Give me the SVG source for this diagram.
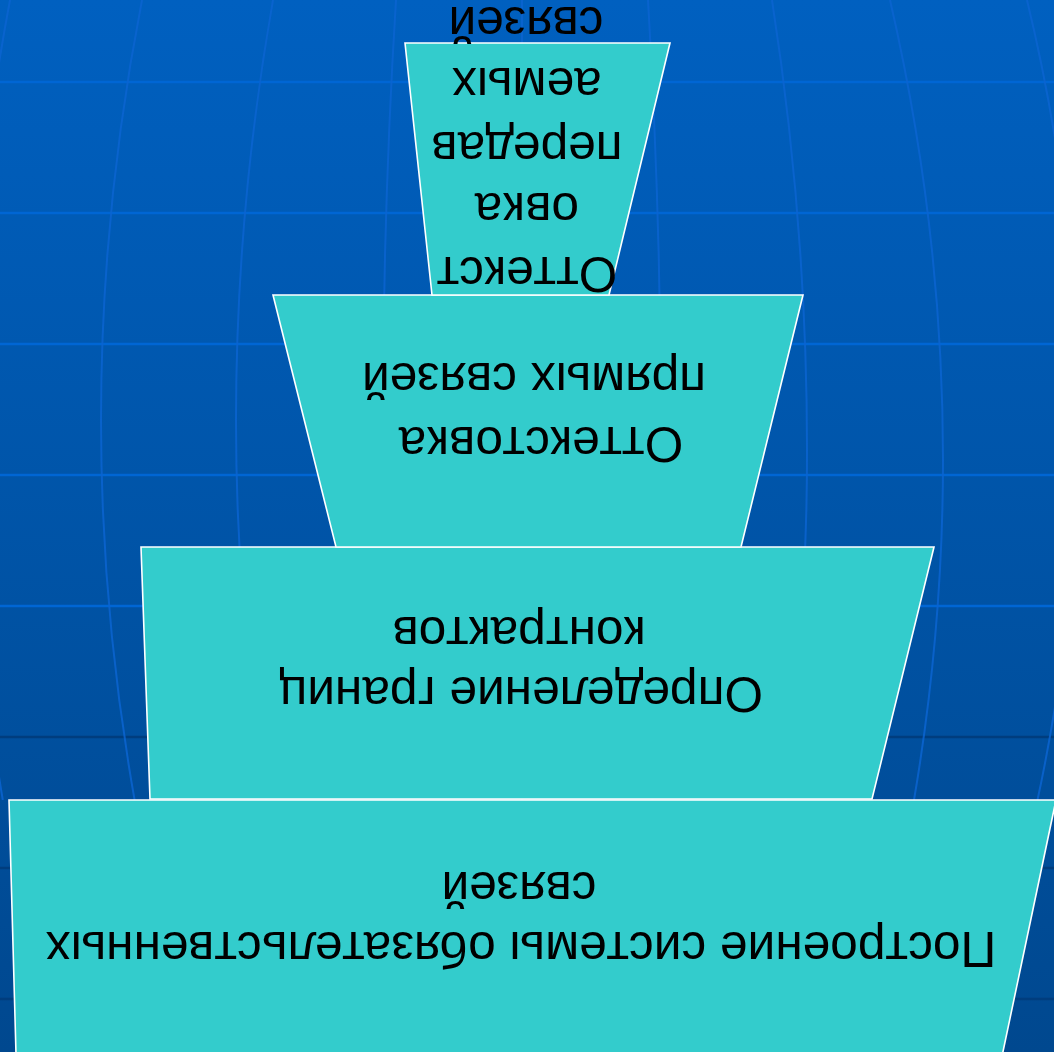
<svg xmlns="http://www.w3.org/2000/svg" width="1054" height="1052" viewBox="0 0 1054 1052">
  <defs>
    <linearGradient id="bg" x1="0" y1="0" x2="0" y2="1">
      <stop offset="0" stop-color="#0060c0"/>
      <stop offset="1" stop-color="#00488f"/>
    </linearGradient>
    <style>
      .lat { stroke: #0066d4; stroke-width: 2.5; fill: none; }
      .latd { stroke: #003d7e; stroke-width: 2.5; fill: none; }
      .mer { stroke: #0a64d0; stroke-width: 2; fill: none; opacity: 0.85; }
      .box { fill: #33cccc; stroke: #ffffff; stroke-width: 1.6; stroke-linejoin: miter; }
      .t { font-family: "Liberation Sans", Arial, sans-serif; font-size: 49.6px; fill: #000000; text-anchor: middle; }
    </style>
  </defs>

  <g id="background">
    <rect x="0" y="0" width="1054" height="1052" fill="url(#bg)"/>
    <g id="latitudes">
      <line class="lat" x1="0" y1="82" x2="1054" y2="82"/>
      <line class="lat" x1="0" y1="213" x2="1054" y2="213"/>
      <line class="lat" x1="0" y1="344" x2="1054" y2="344"/>
      <line class="lat" x1="0" y1="475" x2="1054" y2="475"/>
      <line class="lat" x1="0" y1="606" x2="1054" y2="606"/>
      <line class="latd" x1="0" y1="737" x2="1054" y2="737"/>
      <line class="latd" x1="0" y1="868" x2="1054" y2="868"/>
      <line class="latd" x1="0" y1="999" x2="1054" y2="999"/>
    </g>
    <g id="meridians">
      <path class="mer" d="M10,0 Q-29.5,210 -29.5,420 Q-29.5,610 2.8,800"/>
      <path class="mer" d="M142,0 Q101,210 101,420 Q101,610 134.6,800"/>
      <path class="mer" d="M273,0 Q236,210 236,420 Q236,610 266.3,800"/>
      <path class="mer" d="M396,0 Q383,210 383,420 Q383,610 393.6,800"/>
      <path class="mer" d="M522,0 L522,800"/>
      <path class="mer" d="M648,0 Q661,220 661,440 Q661,620 652.3,800"/>
      <path class="mer" d="M772,0 Q807,225 807,450 Q807,625 785.8,800"/>
      <path class="mer" d="M890,0 Q943,230 943,460 Q943,630 914,800"/>
      <path class="mer" d="M1027,0 Q1078,211 1078,423 Q1078,611 1037.5,800"/>
    </g>
  </g>

  <g id="connectors"/>

  <g id="node4">
    <polygon class="box" points="9,800 1056,800 1002.5,1054 16,1054"/>
    <text class="t" transform="rotate(180 527 526)">
      <tspan x="540" y="120">Построение системы обязательственных</tspan>
      <tspan x="535" y="180">связей</tspan>
    </text>
  </g>

  <g id="node3">
    <polygon class="box" points="141,547 934,547 872,799 150,799"/>
    <text class="t" transform="rotate(180 527 526)">
      <tspan x="540" y="375">Определение границ</tspan>
      <tspan x="535" y="435">контрактов</tspan>
    </text>
  </g>

  <g id="node2">
    <polygon class="box" points="273,295 803,295 741,547 336,547"/>
    <text class="t" transform="rotate(180 527 526)">
      <tspan x="520" y="625">Оттекстовка</tspan>
      <tspan x="520" y="689">прямых связей</tspan>
    </text>
  </g>

  <g id="node1">
    <polygon class="box" points="405,43 670,43 609,295 432,295"/>
    <text class="t" transform="rotate(180 527 526)">
      <tspan x="534" y="795">Оттекст</tspan>
      <tspan x="534" y="859">овка</tspan>
      <tspan x="534" y="920">передав</tspan>
      <tspan x="534" y="984">аемых</tspan>
      <tspan x="528" y="1045">связей</tspan>
    </text>
  </g>
</svg>
